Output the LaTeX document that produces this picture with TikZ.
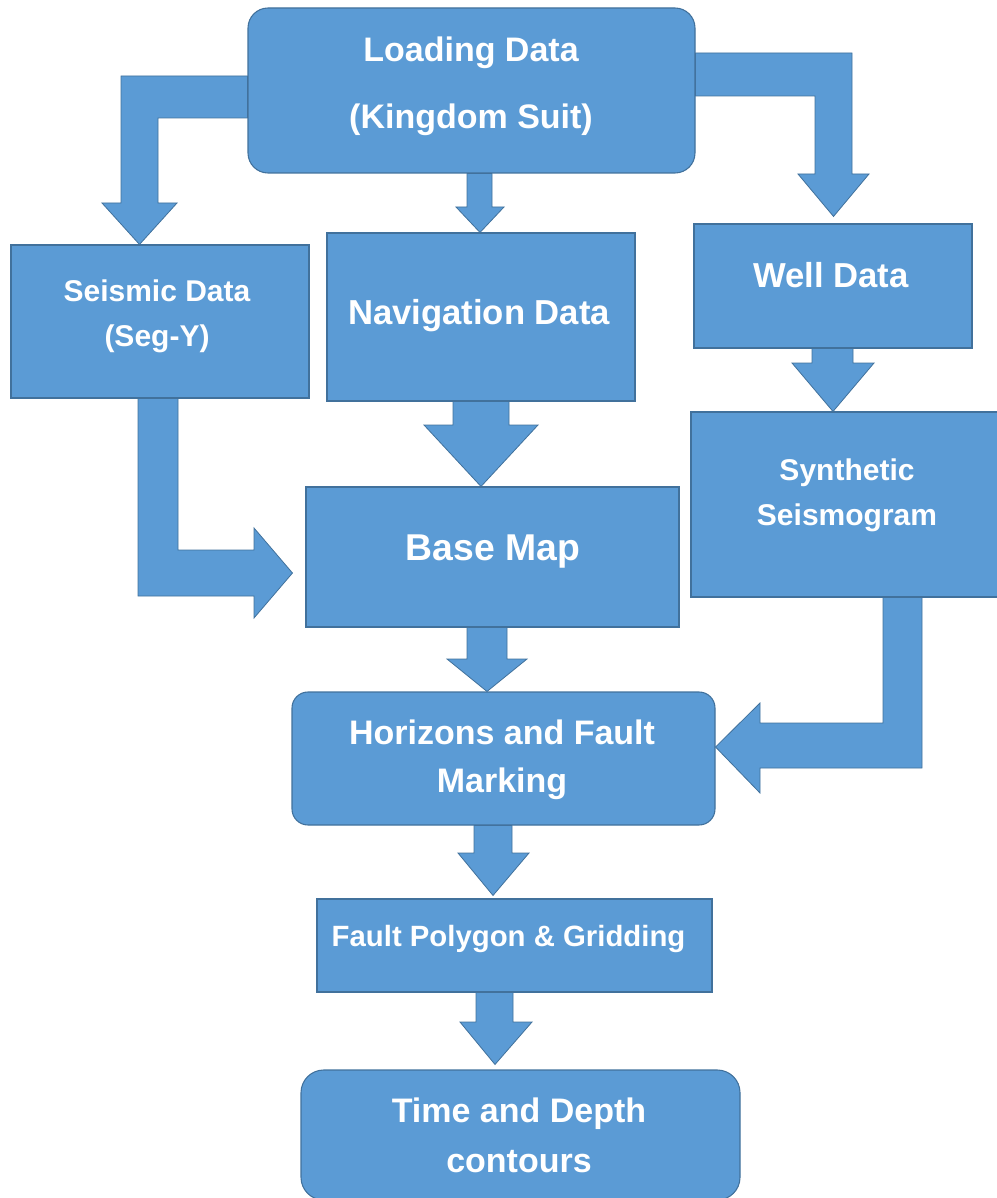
\documentclass[tikz,border=0pt]{standalone}
\usepackage{fontspec}
\setmainfont{Liberation Sans}
\usetikzlibrary{calc}
\definecolor{boxblue}{HTML}{5B9BD5}
\definecolor{edgeblue}{HTML}{41719C}
\pgfdeclarelayer{background}
\pgfsetlayers{background,main}

\begin{document}
\begin{tikzpicture}[x=0.75pt, y=-0.75pt]
    % Define node styles
    \tikzstyle{flowbox}=[rectangle, fill=boxblue, draw=edgeblue, line width=0.8pt, inner sep=0pt]
    \tikzstyle{boxtext}=[text=white, align=center, inner sep=0pt, text depth=0pt]
    \tikzstyle{blockarrow}=[fill=boxblue, draw=edgeblue, line width=0.6pt, line join=miter]

    \useasboundingbox (0,0) rectangle (996,1198);

    % Top: loading step
    \node[flowbox, rounded corners=15pt, minimum width=335.25pt, minimum height=123.75pt] (load) at (471.5,90.5) {};
    \node[boxtext, font=\bfseries\fontsize{25.5pt}{50pt}\selectfont] (load-txt) at (471,83) {Loading Data\\(Kingdom Suit)};

    % Second row: data types
    \node[flowbox, minimum width=223.5pt, minimum height=114.75pt] (seis) at (160,321.5) {};
    \node[boxtext, font=\bfseries\fontsize{22.5pt}{34pt}\selectfont] (seis-txt) at (157,313) {Seismic Data\\(Seg-Y)};
    \node[flowbox, minimum width=231pt, minimum height=126pt] (nav) at (481,317) {};
    \node[boxtext, font=\bfseries\fontsize{26pt}{30pt}\selectfont] (nav-txt) at (479,312) {Navigation Data};
    \node[flowbox, minimum width=208.5pt, minimum height=93pt] (well) at (833,286) {};
    \node[boxtext, font=\bfseries\fontsize{26pt}{30pt}\selectfont] (well-txt) at (831,275) {Well Data};

    % Middle row
    \node[flowbox, minimum width=230.25pt, minimum height=138.75pt] (synth) at (844.5,504.5) {};
    \node[boxtext, font=\bfseries\fontsize{22.5pt}{34pt}\selectfont] (synth-txt) at (847,492) {Synthetic\\Seismogram};
    \node[flowbox, minimum width=279.75pt, minimum height=105pt] (base) at (492.5,557) {};
    \node[boxtext, font=\bfseries\fontsize{28pt}{32pt}\selectfont] (base-txt) at (493,548) {Base Map};

    % Interpretation steps
    \node[flowbox, rounded corners=12pt, minimum width=317.25pt, minimum height=99.75pt] (hor) at (503.5,758.5) {};
    \node[boxtext, font=\bfseries\fontsize{25.5pt}{36pt}\selectfont] (hor-txt) at (502,756) {Horizons and Fault\\Marking};
    \node[flowbox, minimum width=296.25pt, minimum height=69.75pt] (fault) at (514.5,945.5) {};
    \node[boxtext, font=\bfseries\fontsize{22pt}{26pt}\selectfont] (fault-txt) at (508.5,936) {Fault Polygon \& Gridding};
    \node[flowbox, rounded corners=17pt, minimum width=329.25pt, minimum height=97.5pt] (time) at (520.5,1135) {};
    \node[boxtext, font=\bfseries\fontsize{25.5pt}{37.5pt}\selectfont] (time-txt) at (519,1135) {Time and Depth\\contours};

    % Block arrows (behind the boxes)
    \begin{pgfonlayer}{background}
    \draw[blockarrow] (load.west |- 0,76) -- (121,76) -- (121,203) -- (102,203) -- (139.5,0 |- seis.north)
        -- (177,203) -- (158,203) -- (158,118) -- (load.west |- 0,118) -- cycle;
    \draw[blockarrow] (467,0 |- load.south) -- (467,207) -- (456,207) -- (480,0 |- nav.north)
        -- (504,207) -- (492,207) -- (492,0 |- load.south) -- cycle;
    \draw[blockarrow] (load.east |- 0,53) -- (852,53) -- (852,174) -- (869,174) -- ($(833.5,0 |- well.north)+(0,-7)$)
        -- (798,174) -- (815,174) -- (815,96) -- (load.east |- 0,96) -- cycle;
    \draw[blockarrow] (453,0 |- nav.south) -- (453,425) -- (424,425) -- (481,0 |- base.north)
        -- (538,425) -- (509,425) -- (509,0 |- nav.south) -- cycle;
    \draw[blockarrow] (138,0 |- seis.south) -- (138,596) -- (254,596) -- (254,618) -- ($(base.west |- 0,573)+(-13,0)$)
        -- (254,528) -- (254,550) -- (178,550) -- (178,0 |- seis.south) -- cycle;
    \draw[blockarrow] (812,0 |- well.south) -- (812,363) -- (792,363) -- (833,0 |- synth.north)
        -- (874,363) -- (853,363) -- (853,0 |- well.south) -- cycle;
    \draw[blockarrow] (467,0 |- base.south) -- (467,659) -- (447,659) -- (487,0 |- hor.north)
        -- (527,659) -- (507,659) -- (507,0 |- base.south) -- cycle;
    \draw[blockarrow] (883,0 |- synth.south) -- (883,723) -- (760,723) -- (760,703) -- (hor.east |- 0,747)
        -- (760,793) -- (760,768) -- (922,768) -- (922,0 |- synth.south) -- cycle;
    \draw[blockarrow] (474,0 |- hor.south) -- (474,853) -- (458,853) -- ($(493,0 |- fault.north)+(0,-3)$)
        -- (529,853) -- (512,853) -- (512,0 |- hor.south) -- cycle;
    \draw[blockarrow] (476,0 |- fault.south) -- (476,1022) -- (460,1022) -- ($(495,0 |- time.north)+(0,-5)$)
        -- (532,1022) -- (513,1022) -- (513,0 |- fault.south) -- cycle;
    \end{pgfonlayer}
\end{tikzpicture}
\end{document}
